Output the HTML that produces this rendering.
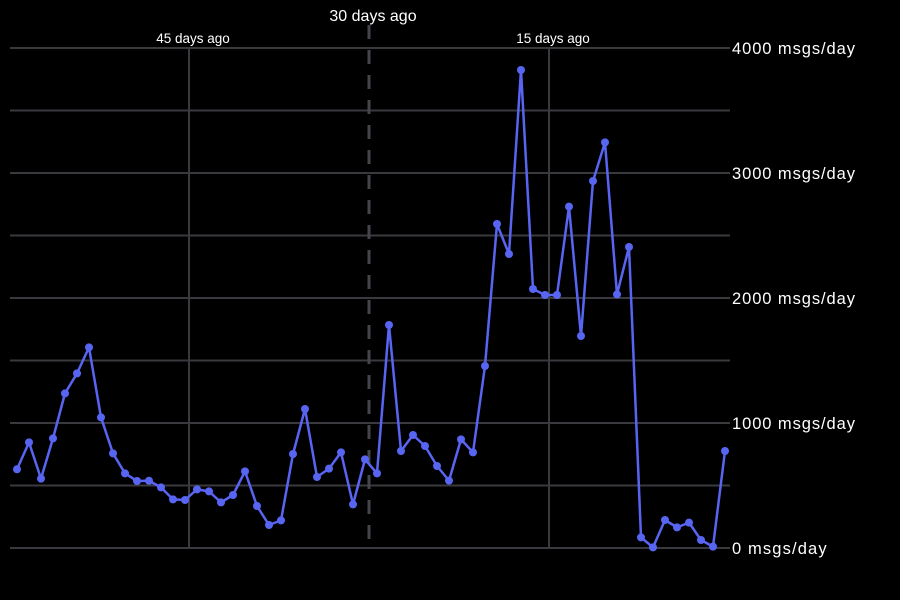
<!DOCTYPE html>
<html><head><meta charset="utf-8"><style>
html,body{margin:0;padding:0;background:#000;}
svg{display:block;font-family:"Liberation Sans","DejaVu Sans",sans-serif;}
</style></head><body>
<svg id="chart" width="900" height="600">
<rect width="900" height="600" fill="#000"/>
<g id="grid"></g><g id="series"></g><g id="labels"></g>
</svg>
<script>
const values=[630,845,555,877,1237,1397,1605,1045,757,597,536,538,485,389,384,469,453,365,424,613,336,184,221,752,1112,568,635,765,349,709,597,1784,776,904,816,656,539,869,765,1456,2592,2352,3824,2072,2024,2024,2731,1696,2936,3245,2029,2408,85,5,224,165,203,64,11,776];
const yTicks=[0,1000,2000,3000,4000];
const yTickLabels=["0 msgs/day","1000 msgs/day","2000 msgs/day","3000 msgs/day","4000 msgs/day"];
const xMarkers=[45,30,15];
const xMarkerLabels=["45 days ago","30 days ago","15 days ago"];
const NS="http://www.w3.org/2000/svg";
const x=i=>17+i*12; // index 0 = 59 days ago
const xDays=d=>x(59-d)+4;
const y=v=>548-v*0.125;
function mk(t,a,p){const e=document.createElementNS(NS,t);for(const k in a)e.setAttribute(k,a[k]);p.appendChild(e);return e;}
const grid=document.getElementById('grid'),ser=document.getElementById('series'),lab=document.getElementById('labels');
for(let v=0;v<=4000;v+=500){
  const l=mk('line',{x1:10,x2:730,y1:y(v),y2:y(v),stroke:'#3a3a3e','stroke-width':2},grid);
  
  
}
yTicks.forEach((v,k)=>{
  const t=mk('text',{x:732,y:y(v)+6,fill:'#fff','font-size':16.5},lab);t.textContent=yTickLabels[k];
  t.setAttribute('textLength',yTickLabels[k].length*9.46);
  
  
});
xMarkers.forEach((d,k)=>{
  const xp=xDays(d),dashed=d===30;
  const l=mk('line',{x1:xp,x2:xp,y1:dashed?25:48,y2:548,stroke:dashed?'#44464b':'#3a3a3e','stroke-width':dashed?3:2},grid);
  if(dashed)l.setAttribute('stroke-dasharray','14,11');
  
  
  const t=mk('text',{x:xp+4,y:dashed?21:43,fill:'#fff','font-size':dashed?16:13.5,'text-anchor':'middle'},lab);
  t.textContent=xMarkerLabels[k];
  
  
});
const pl=mk('polyline',{points:values.map((v,i)=>x(i)+','+y(v)).join(' '),fill:'none',stroke:'#5865f2','stroke-width':2.5,'stroke-linejoin':'round'},ser);


values.forEach((v,i)=>{
  const c=mk('circle',{cx:x(i),cy:y(v),r:4,fill:'#5865f2'},ser);
  
  
});
</script>
</body></html>
